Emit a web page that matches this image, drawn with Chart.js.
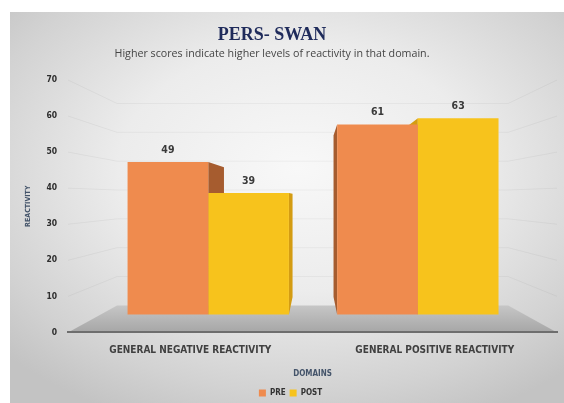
<!DOCTYPE html>
<html>
<head>
<meta charset="utf-8">
<script src="https://cdn.jsdelivr.net/npm/chart.js@4.4.1/dist/chart.umd.min.js"></script>
<style>
  html, body { margin: 0; padding: 0; background: #fff; }
  #panel {
    position: absolute; left: 10px; top: 12px; width: 554px; height: 391px;
    background: radial-gradient(ellipse 72% 70% at 52% 40%, #f8f8f8 0%, #ececec 45%, #d2d2d2 82%, #c3c3c3 100%);
  }
  .head { position: absolute; left: 0; width: 544px; text-align: center; white-space: nowrap; }
  #title { top: 23px; font: bold 18px 'Liberation Serif', 'DejaVu Serif', serif; color: #1f2b5b; line-height: 22px; }
  #subtitle { top: 46px; font: 10.7px 'Open Sans', sans-serif; color: #454545; line-height: 14px; }
</style>
</head>
<body>
<div id="panel"><canvas id="pers"></canvas></div>
<div id="title" class="head">PERS- SWAN</div>
<div id="subtitle" class="head">Higher scores indicate higher levels of reactivity in that domain.</div>
<script>
// PERS-SWAN reactivity scores, pre vs post
const domains = ['GENERAL NEGATIVE REACTIVITY', 'GENERAL POSITIVE REACTIVITY'];
const preScores = [49, 61];
const postScores = [39, 63];
const yTicks = [0, 10, 20, 30, 40, 50, 60, 70];

const PRE_COLOR = '#ef8b4e';
const POST_COLOR = '#f7c31c';
const PRE_SIDE = '#a65c2f';
const POST_SIDE = '#d49c12';
const narrow = "'Liberation Sans Narrow', 'DejaVu Sans Condensed', 'Liberation Sans', sans-serif";

// point the depth toward the middle of the plot
function vanish(chart) {
    const a = chart.chartArea;
    return { x: chart.scales.xf.getPixelForValue(0.5), y: a.top + (a.bottom - a.top) * 0.465 };
}
function toward(p, vp, k) {
    return { x: p.x + (vp.x - p.x) * k, y: p.y + (vp.y - p.y) * k };
}

// grey floor and faint back-wall lines
const floorPlugin = {
    id: 'floor',
    beforeDraw(chart) {
        const { ctx, chartArea: a, scales } = chart;
        const vp = vanish(chart);
        const k = 0.2;
        ctx.save();
        ctx.strokeStyle = 'rgba(0,0,0,0.045)';
        ctx.lineWidth = 1;
        yTicks.slice(1).forEach(v => {
            const y = scales.y.getPixelForValue(v);
            const l = toward({ x: a.left, y }, vp, k);
            const r = toward({ x: a.right, y }, vp, k);
            ctx.beginPath();
            ctx.moveTo(a.left, y);
            ctx.lineTo(l.x, l.y);
            ctx.lineTo(r.x, r.y);
            ctx.lineTo(a.right, y);
            ctx.stroke();
        });
        const y0 = scales.y.getPixelForValue(0);
        const bl = toward({ x: a.left, y: y0 }, vp, k);
        const br = toward({ x: a.right, y: y0 }, vp, k);
        const g = ctx.createLinearGradient(0, bl.y, 0, y0);
        g.addColorStop(0, '#c6c6c6');
        g.addColorStop(1, '#a6a6a6');
        ctx.fillStyle = g;
        ctx.beginPath();
        ctx.moveTo(a.left, y0);
        ctx.lineTo(bl.x, bl.y);
        ctx.lineTo(br.x, br.y);
        ctx.lineTo(a.right, y0);
        ctx.closePath();
        ctx.fill();
        ctx.restore();
    }
};

// side faces of the bars, drawn behind the fronts, plus the value labels
const depthPlugin = {
    id: 'depth',
    beforeDatasetsDraw(chart) {
        const ctx = chart.ctx;
        const vp = vanish(chart);
        const k = 0.15;
        ctx.save();
        chart.data.datasets.forEach((ds, di) => {
            chart.getDatasetMeta(di).data.forEach(bar => {
                const p = bar.getProps(['x', 'y', 'base', 'width'], true);
                const edge = p.x < vp.x ? p.x + p.width / 2 : p.x - p.width / 2;
                const t = toward({ x: edge, y: p.y }, vp, k);
                const b = toward({ x: edge, y: p.base }, vp, k);
                ctx.fillStyle = di === 0 ? PRE_SIDE : POST_SIDE;
                ctx.beginPath();
                ctx.moveTo(edge, p.y);
                ctx.lineTo(t.x, t.y);
                ctx.lineTo(b.x, b.y);
                ctx.lineTo(edge, p.base);
                ctx.closePath();
                ctx.fill();
            });
        });
        ctx.restore();
    },
    afterDatasetsDraw(chart) {
        const ctx = chart.ctx;
        ctx.save();
        ctx.font = "bold 10.5px " + narrow;
        ctx.fillStyle = '#3a3a3a';
        ctx.textAlign = 'center';
        ctx.textBaseline = 'middle';
        chart.data.datasets.forEach((ds, di) => {
            chart.getDatasetMeta(di).data.forEach((bar, i) => {
                const p = bar.getProps(['x', 'y'], true);
                ctx.fillText(ds.data[i].y, p.x, p.y - 12);
            });
        });
        ctx.restore();
    }
};

new Chart(document.getElementById('pers'), {
    type: 'bar',
    data: {
        labels: domains,
        datasets: [
            { label: 'PRE', data: preScores.map((v, i) => ({ x: i, y: v })), backgroundColor: PRE_COLOR, xAxisID: 'xf', yAxisID: 'yf' },
            { label: 'POST', data: postScores.map((v, i) => ({ x: i, y: v })), backgroundColor: POST_COLOR, xAxisID: 'xf', yAxisID: 'yf' }
        ]
    },
    options: {
        responsive: true,
        maintainAspectRatio: false,
        animation: false,
        barPercentage: 1,
        categoryPercentage: 0.77,
        layout: { padding: { top: 68, right: 7, bottom: -4, left: 14 } },
        plugins: {
            legend: {
                position: 'bottom',
                labels: {
                    boxWidth: 7, boxHeight: 7, padding: 4, color: '#333',
                    font: { family: narrow, size: 8, weight: 'bold' }
                }
            },
            tooltip: { enabled: false }
        },
        scales: {
            x: {
                type: 'category',
                offset: true,
                grid: { display: false, drawTicks: false },
                border: { display: true, color: '#6e6e6e', width: 2 },
                ticks: { color: '#404040', padding: 13.5, font: { family: narrow, size: 10, weight: 'bold', lineHeight: 1 } },
                title: { display: true, text: 'DOMAINS', color: '#44546a', padding: { top: 0, bottom: 6 }, font: { family: narrow, size: 8, weight: 'bold' } }
            },
            xf: {
                type: 'linear', display: false, offset: false, grid: { offset: false },
                min: -0.669, max: 1.664,
                afterBuildTicks: scale => { scale.ticks = []; }
            },
            y: {
                min: yTicks[0],
                max: yTicks[yTicks.length - 1],
                grid: { display: false, drawTicks: false },
                border: { display: false },
                ticks: { stepSize: yTicks[1] - yTicks[0], color: '#2e2e2e', padding: 11, font: { family: narrow, size: 8.5, weight: 'bold' } },
                title: { display: true, text: 'REACTIVITY', color: '#44546a', padding: { top: 0, bottom: 3 }, font: { family: narrow, size: 7, weight: 'bold' } }
            },
            yf: { type: 'linear', display: false, min: -5.77, max: 75.32 }
        }
    },
    plugins: [floorPlugin, depthPlugin]
});
</script>
</body>
</html>
